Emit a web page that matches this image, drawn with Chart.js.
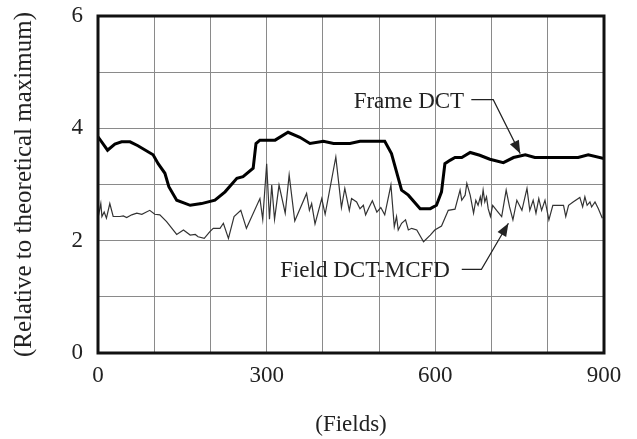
<!DOCTYPE html>
<html>
<head>
<meta charset="utf-8">
<script src="https://cdn.jsdelivr.net/npm/chart.js@4/dist/chart.umd.min.js"></script>
<style>
  html, body { margin: 0; padding: 0; background: #fff; }
  #wrap { width: 637px; height: 439px; }
</style>
</head>
<body>
<div id="wrap"><canvas id="chart" width="637" height="439"></canvas></div>
<script>
/* ---------- data ---------- */
const frameX = [0, 17, 30, 42, 57, 71, 98, 107, 119, 126, 140, 164, 184, 208, 226, 247, 258, 276, 281, 288, 315, 338, 359, 377, 401, 419, 448, 466, 510, 522, 540, 552, 573, 591, 602, 611, 617, 626, 635, 647, 662, 679, 697, 721, 739, 760, 777, 854, 872, 900];
const frameY = [3.85, 3.61, 3.72, 3.76, 3.76, 3.69, 3.53, 3.37, 3.20, 2.96, 2.72, 2.63, 2.66, 2.72, 2.87, 3.11, 3.14, 3.29, 3.73, 3.79, 3.79, 3.93, 3.84, 3.73, 3.77, 3.73, 3.73, 3.77, 3.77, 3.55, 2.90, 2.81, 2.57, 2.57, 2.63, 2.87, 3.37, 3.43, 3.48, 3.48, 3.57, 3.52, 3.45, 3.39, 3.48, 3.53, 3.48, 3.48, 3.53, 3.46];

const fieldX = [0, 5, 7, 11, 15, 21, 27, 39, 45, 51, 60, 69, 78, 92, 101, 110, 122, 140, 152, 164, 173, 178, 189, 199, 205, 217, 223, 232, 242, 254, 264, 288, 293, 300, 305, 309, 314, 322, 333, 340, 350, 371, 376, 380, 386, 398, 404, 423, 433, 439, 447, 451, 460, 466, 472, 476, 482, 488, 496, 503, 510, 521, 527, 531, 534, 540, 547, 552, 558, 567, 579, 591, 599, 611, 623, 635, 644, 647, 653, 656, 662, 668, 672, 676, 680, 682, 685, 688, 691, 694, 698, 702, 709, 718, 726, 732, 738, 745, 754, 763, 768, 774, 779, 784, 789, 795, 802, 809, 828, 832, 837, 845, 857, 862, 866, 870, 875, 878, 884, 890, 897];
const fieldY = [2.40, 2.66, 2.43, 2.51, 2.40, 2.66, 2.43, 2.43, 2.44, 2.41, 2.46, 2.49, 2.47, 2.54, 2.47, 2.46, 2.34, 2.11, 2.19, 2.10, 2.11, 2.07, 2.04, 2.16, 2.22, 2.22, 2.31, 2.04, 2.43, 2.54, 2.22, 2.75, 2.38, 3.37, 2.38, 2.99, 2.38, 2.99, 2.49, 3.17, 2.35, 2.84, 2.54, 2.66, 2.30, 2.75, 2.47, 3.49, 2.59, 2.93, 2.54, 2.75, 2.69, 2.57, 2.63, 2.46, 2.59, 2.71, 2.51, 2.59, 2.46, 2.99, 2.25, 2.43, 2.19, 2.31, 2.37, 2.19, 2.22, 2.19, 1.98, 2.10, 2.19, 2.26, 2.54, 2.56, 2.90, 2.72, 2.81, 3.02, 2.81, 2.49, 2.72, 2.63, 2.78, 2.66, 2.90, 2.69, 2.78, 2.57, 2.43, 2.63, 2.54, 2.43, 2.90, 2.60, 2.37, 2.72, 2.54, 2.93, 2.54, 2.72, 2.49, 2.75, 2.54, 2.72, 2.37, 2.63, 2.63, 2.43, 2.63, 2.69, 2.77, 2.60, 2.78, 2.63, 2.69, 2.60, 2.69, 2.57, 2.40];

const xTickLabels = [0, 300, 600, 900];
const yTickLabels = [0, 2, 4, 6];

// callouts: text anchor, elbow start/end, arrow tip (data units)
const frameNote = { text: "Frame DCT", at: [553, 4.36], from: [664, 4.51], elbow: [703, 4.51], tip: [751, 3.55] };
const fieldNote = { text: "Field DCT-MCFD", at: [475, 1.36], from: [647, 1.49], elbow: [682, 1.49], tip: [730, 2.31] };

const FONT = "'Liberation Serif', 'DejaVu Serif', serif";
const INK = "#222";

function toPts(xs, ys) {
  return xs.map((x, i) => ({ x, y: ys[i] }));
}

/* ---------- plugin: frame + callouts ---------- */
const calloutPlugin = {
  id: "callouts",
  afterDraw(chart) {
    const { ctx, chartArea: a, scales: { x, y } } = chart;
    ctx.save();
    ctx.strokeStyle = "#111";
    ctx.lineWidth = 3;
    ctx.strokeRect(a.left, a.top, a.right - a.left, a.bottom - a.top);

    [frameNote, fieldNote].forEach(n => {
      ctx.fillStyle = INK;
      ctx.font = "23px " + FONT;
      ctx.textAlign = "center";
      ctx.textBaseline = "alphabetic";
      ctx.fillText(n.text, x.getPixelForValue(n.at[0]), y.getPixelForValue(n.at[1]));

      const x0 = x.getPixelForValue(n.from[0]), y0 = y.getPixelForValue(n.from[1]);
      const x1 = x.getPixelForValue(n.elbow[0]), y1 = y.getPixelForValue(n.elbow[1]);
      const x2 = x.getPixelForValue(n.tip[0]), y2 = y.getPixelForValue(n.tip[1]);
      ctx.strokeStyle = INK;
      ctx.lineWidth = 1.2;
      ctx.beginPath();
      ctx.moveTo(x0, y0);
      ctx.lineTo(x1, y1);
      ctx.lineTo(x2, y2);
      ctx.stroke();

      // arrow head
      const ang = Math.atan2(y2 - y1, x2 - x1);
      const len = 13, half = 5;
      ctx.beginPath();
      ctx.moveTo(x2, y2);
      ctx.lineTo(x2 - len * Math.cos(ang) + half * Math.sin(ang), y2 - len * Math.sin(ang) - half * Math.cos(ang));
      ctx.lineTo(x2 - len * Math.cos(ang) - half * Math.sin(ang), y2 - len * Math.sin(ang) + half * Math.cos(ang));
      ctx.closePath();
      ctx.fill();
    });
    ctx.restore();
  }
};

/* ---------- chart ---------- */
const ctx = document.getElementById("chart").getContext("2d");
new Chart(ctx, {
  type: "line",
  data: {
    datasets: [
      {
        label: "Frame DCT",
        data: toPts(frameX, frameY),
        borderColor: "#000",
        borderWidth: 3,
        pointRadius: 0,
        tension: 0,
      },
      {
        label: "Field DCT-MCFD",
        data: toPts(fieldX, fieldY),
        borderColor: "#333",
        borderWidth: 1.2,
        pointRadius: 0,
        tension: 0,
      },
    ],
  },
  options: {
    responsive: false,
    animation: false,
    layout: { padding: { top: 16, right: 33, left: 0, bottom: 0 } },
    plugins: { legend: { display: false }, tooltip: { enabled: false } },
    scales: {
      x: {
        type: "linear",
        min: 0,
        max: 900,
        afterFit: s => { s.height = 86; s.paddingLeft = 0; s.paddingRight = 0; },
        grid: { color: "#8a8a8a", lineWidth: 1, drawTicks: false },
        border: { display: false },
        ticks: {
          stepSize: 100,
          padding: 9,
          color: INK,
          font: { family: FONT, size: 23 },
          maxRotation: 0,
          autoSkip: false,
          callback: v => (xTickLabels.includes(v) ? String(v) : ""),
        },
        title: {
          display: true,
          text: "(Fields)",
          color: INK,
          font: { family: FONT, size: 23 },
          padding: { top: 0, bottom: 0 },
        },
      },
      y: {
        min: 0,
        max: 6,
        afterFit: s => { s.width = 98; s.paddingTop = 0; s.paddingBottom = 0; },
        grid: { color: "#8a8a8a", lineWidth: 1, drawTicks: false },
        border: { display: false },
        ticks: {
          stepSize: 1,
          padding: 15,
          color: INK,
          font: { family: FONT, size: 23 },
          autoSkip: false,
          callback: v => (yTickLabels.includes(v) ? String(v) : ""),
        },
        title: {
          display: true,
          text: "(Relative to theoretical maximum)",
          color: INK,
          font: { family: FONT, size: 25 },
          padding: { top: 9, bottom: 0 },
        },
      },
    },
  },
  plugins: [calloutPlugin],
});
</script>
</body>
</html>
